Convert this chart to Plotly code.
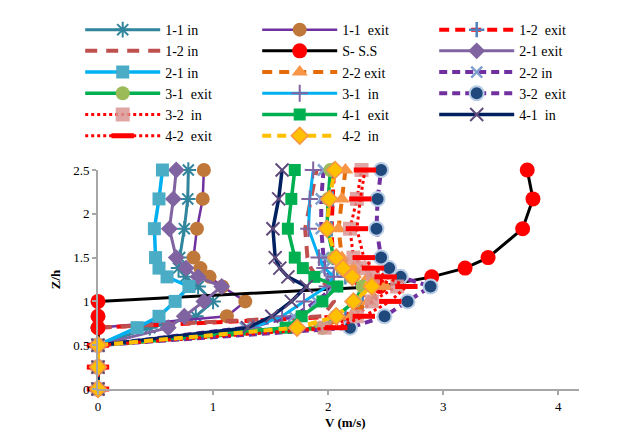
import plotly.graph_objects as go

# Relative depth levels (Z/h)
z_levels = [0, 0.25, 0.5, 0.7, 0.83, 1.0, 1.17, 1.28, 1.38, 1.5, 1.83, 2.17, 2.5]

# Velocity profiles V (m/s), one value per depth level
v_11_in   = [0, 0, 0, 0.45, 0.85, 1.00, 0.87, 0.76, 0.70, 0.71, 0.75, 0.78, 0.785]
v_11_exit = [0, 0, 0, 0, 1.12, 1.28, 1.08, 0.97, 0.89, 0.83, 0.86, 0.91, 0.92]
v_12_exit = [0, 0, 0, 0, 2.15, 2.30, 2.30, 2.15, 2.08, 2.04, 2.03, 2.04, 2.05]
v_12_in   = [0, 0, 0, 0, 1.95, 2.05, 2.00, 1.90, 1.85, 1.82, 1.80, 1.85, 1.90]
v_ss      = [0, 0, 0, 0, 0, 0, 2.45, 2.90, 3.19, 3.39, 3.69, 3.78, 3.73]
v_21_exit = [0, 0, 0, 0.61, 0.75, 0.92, 1.075, 0.87, 0.765, 0.68, 0.62, 0.655, 0.68]
v_21_in   = [0, 0, 0, 0.34, 0.53, 0.67, 0.79, 0.60, 0.53, 0.50, 0.49, 0.53, 0.56]
v_22_exit = [0, 0, 0, 1.90, 2.20, 2.35, 2.50, 2.35, 2.22, 2.12, 2.09, 2.12, 2.15]
v_22_in   = [0, 0, 0, 1.28, 1.70, 1.90, 2.05, 2.00, 1.97, 1.96, 1.94, 1.94, 1.96]
v_31_exit = [0, 0, 0, 1.95, 2.07, 2.23, 2.30, 2.20, 2.12, 2.05, 1.99, 2.00, 2.02]
v_31_in   = [0, 0, 0, 1.35, 1.60, 1.79, 1.99, 2.05, 1.97, 1.92, 1.83, 1.84, 1.87]
v_32_exit = [0, 0, 0, 2.19, 2.49, 2.69, 2.89, 2.63, 2.53, 2.46, 2.42, 2.43, 2.46]
v_32_in   = [0, 0, 0, 1.97, 2.25, 2.38, 2.60, 2.39, 2.31, 2.22, 2.19, 2.25, 2.29]
v_41_exit = [0, 0, 0, 1.63, 1.77, 1.95, 2.08, 1.88, 1.78, 1.71, 1.65, 1.68, 1.71]
v_41_in   = [0, 0, 0, 1.30, 1.51, 1.68, 1.81, 1.65, 1.58, 1.54, 1.52, 1.57, 1.60]
v_42_exit = [0, 0, 0, 2.07, 2.31, 2.54, 2.68, 2.50, 2.39, 2.31, 2.25, 2.28, 2.32]
v_42_in   = [0, 0, 0, 1.73, 2.07, 2.22, 2.38, 2.21, 2.13, 2.07, 1.99, 2.01, 2.06]

x_ticks = [0, 1, 2, 3, 4]
y_ticks = [0, 0.5, 1, 1.5, 2, 2.5]

FONT = "Liberation Serif, Times New Roman, serif"

series = [
    ("1-1 in", v_11_in, dict(color="#31859C", width=3), dict(symbol="asterisk-open", size=13, color="#31859C", line=dict(width=2, color="#31859C"))),
    ("1-1  exit", v_11_exit, dict(color="#7030A0", width=2.5), dict(symbol="circle", size=14, color="#C0783A")),
    ("1-2  exit", v_12_exit, dict(color="#FF0000", width=4, dash="10px,6px"), dict(symbol="cross-thin-open", size=11, color="#4F81BD", line=dict(width=2.5, color="#4F81BD"))),
    ("1-2 in", v_12_in, dict(color="#C0504D", width=4, dash="12px,9px"), None),
    ("S- S.S", v_ss, dict(color="#000000", width=3), dict(symbol="circle", size=15, color="#FF0000")),
    ("2-1 exit", v_21_exit, dict(color="#8064A2", width=3), dict(symbol="diamond", size=13, color="#8064A2")),
    ("2-1 in", v_21_in, dict(color="#00B0F0", width=3.5), dict(symbol="square", size=13, color="#4BACC6")),
    ("2-2 exit", v_22_exit, dict(color="#E46C0A", width=4, dash="10px,7px"), dict(symbol="triangle-up", size=14, color="#F79646")),
    ("2-2 in", v_22_in, dict(color="#7030A0", width=4, dash="8px,5px"), dict(symbol="x-thin-open", size=11, color="#7F9FCF", line=dict(width=2.5, color="#7F9FCF"))),
    ("3-1  exit", v_31_exit, dict(color="#00B050", width=3.5), dict(symbol="circle", size=14, color="#9BBB59")),
    ("3-1  in", v_31_in, dict(color="#00B0F0", width=3), dict(symbol="cross-thin-open", size=12, color="#8064A2", line=dict(width=2, color="#8064A2"))),
    ("3-2  exit", v_32_exit, dict(color="#7030A0", width=4, dash="8px,5px"), dict(symbol="circle", size=14, color="#1F497D", line=dict(width=2, color="#B9CDE5"))),
    ("3-2  in", v_32_in, dict(color="#FF0000", width=3, dash="dot"), dict(symbol="square", size=14, color="rgba(217,150,148,0.85)")),
    ("4-1  exit", v_41_exit, dict(color="#00B050", width=3.5), dict(symbol="square", size=12, color="#00B050")),
    ("4-1  in", v_41_in, dict(color="#002060", width=3.5), dict(symbol="x-thin-open", size=13, color="#604A7B", line=dict(width=2, color="#604A7B"))),
    ("4-2  exit", v_42_exit, dict(color="#FF0000", width=3, dash="dot"), dict(symbol="line-ew-open", size=16, color="#FF0000", line=dict(width=5, color="#FF0000"))),
    ("4-2  in", v_42_in, dict(color="#FFC000", width=4, dash="9px,6px"), dict(symbol="diamond", size=13, color="#FFC000", line=dict(width=1.5, color="#F79646"))),
]

fig = go.Figure()
for name, xs, line, marker in series:
    kw = dict(x=xs, y=z_levels, name=name, line=line, cliponaxis=False)
    if marker is None:
        kw["mode"] = "lines"
    else:
        kw["mode"] = "lines+markers"
        kw["marker"] = marker
    fig.add_trace(go.Scatter(**kw))

axis_common = dict(
    showgrid=False, zeroline=False, showline=True, linecolor="#A6A6A6", linewidth=2,
    ticks="outside", tickcolor="#A6A6A6", ticklen=4, tickwidth=1.5,
    tickfont=dict(family=FONT, size=13, color="#000000"),
)

# The page body adds an 8px offset, so the figure is sized/margined to compensate.
fig.update_layout(
    width=614, height=426,
    margin=dict(l=90, r=43, t=162, b=45, autoexpand=False),
    paper_bgcolor="white", plot_bgcolor="white",
    font=dict(family=FONT, size=13, color="#000000"),
    xaxis=dict(range=[0, 4.18], tickvals=x_ticks, ticktext=[str(t) for t in x_ticks],
               **axis_common),
    yaxis=dict(range=[0, 2.5], tickvals=y_ticks, ticktext=[f"{t:g}" for t in y_ticks],
               title=dict(text="<b>Z/h</b>", font=dict(family=FONT, size=13), standoff=10),
               **axis_common),
    legend=dict(
        orientation="h", x=-0.037, xanchor="left", y=1.712, yanchor="top",
        itemwidth=75, entrywidth=87, entrywidthmode="pixels",
        font=dict(family=FONT, size=14, color="#000000"),
        bgcolor="rgba(0,0,0,0)", traceorder="normal", itemclick=False,
    ),
    showlegend=True,
    annotations=[dict(text="<b>V (m/s)</b>", xref="paper", yref="paper", x=0.514, y=-0.152,
                      xanchor="center", yanchor="middle", showarrow=False,
                      font=dict(family=FONT, size=13, color="#000000"))],
    shapes=[dict(type="line", xref="paper", yref="paper", x0=1.082, x1=1.082, y0=-0.3, y1=1.8,
                 line=dict(color="#D9D9D9", width=1.5))],
)

fig.write_html("out.html")
